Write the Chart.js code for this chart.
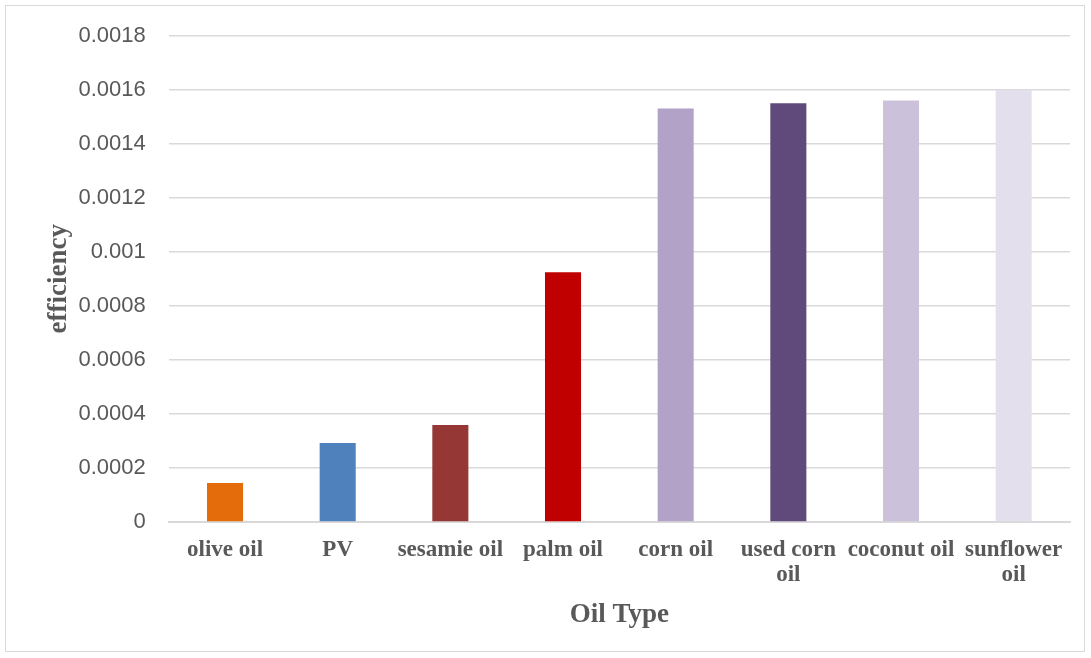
<!DOCTYPE html>
<html>
<head>
<meta charset="utf-8">
<script src="https://cdn.jsdelivr.net/npm/chart.js@4"></script>
<style>
  html, body { margin: 0; padding: 0; background: #fff; }
  #wrap { position: absolute; left: 5px; top: 5px; width: 1080px; height: 647px; border: 1px solid #d9d9d9; box-sizing: border-box; }
</style>
</head>
<body>
<div id="wrap"><canvas id="c"></canvas></div>
<script>
  // oil types and measured efficiency
  const oilTypes = ['olive oil', 'PV', 'sesamie oil', 'palm oil', 'corn oil', ['used corn', 'oil'], 'coconut oil', ['sunflower', 'oil']];
  const efficiency = [0.000144, 0.000292, 0.000359, 0.000924, 0.00153, 0.00155, 0.00156, 0.0016];
  const barColors = ['#E46C0A', '#4F81BD', '#953735', '#C00000', '#B3A2C7', '#604A7B', '#CCC1DA', '#E4DFEC'];
  const yTicks = [0, 0.0002, 0.0004, 0.0006, 0.0008, 0.001, 0.0012, 0.0014, 0.0016, 0.0018];

  const serif = '"Liberation Serif", "Times New Roman", serif';
  const sans = '"Liberation Sans", Arial, sans-serif';

  new Chart(document.getElementById('c'), {
    type: 'bar',
    data: {
      labels: oilTypes,
      datasets: [{ data: efficiency, backgroundColor: barColors, barPercentage: 0.32, categoryPercentage: 1 }]
    },
    options: {
      responsive: true,
      maintainAspectRatio: false,
      animation: false,
      layout: { padding: { left: 13, right: 14, top: 0, bottom: 16 } },
      plugins: { legend: { display: false }, tooltip: { enabled: false } },
      scales: {
        x: {
          grid: { display: false, drawTicks: false },
          border: { color: '#d9d9d9', width: 2 },
          ticks: { color: '#595959', font: { family: serif, size: 23, weight: 'bold', lineHeight: 1.1 }, padding: 15, maxRotation: 0, autoSkip: false },
          title: { display: true, text: 'Oil Type', color: '#595959', font: { family: serif, size: 27, weight: 'bold' }, padding: { top: -4, bottom: 4 } }
        },
        y: {
          min: 0, max: 0.0018,
          afterBuildTicks: axis => { axis.ticks = yTicks.map(v => ({ value: v })); },
          grid: { color: '#d9d9d9', lineWidth: 1.5, drawTicks: false },
          border: { display: false },
          ticks: { color: '#595959', font: { family: sans, size: 22, lineHeight: 0.6 }, padding: 23, callback: v => String(+v.toFixed(4)) },
          title: { display: true, text: 'efficiency', color: '#595959', font: { family: serif, size: 27, weight: 'bold' }, padding: { top: 24, bottom: -20 } }
        }
      }
    }
  });
</script>
</body>
</html>
